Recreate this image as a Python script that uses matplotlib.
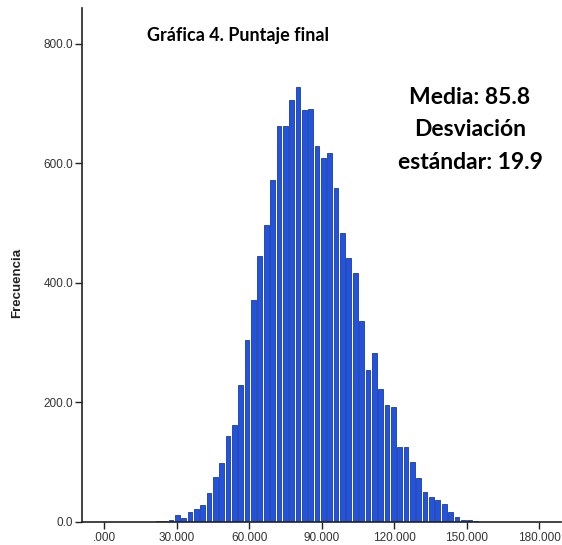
import numpy as np
import matplotlib
matplotlib.use("Agg")
import matplotlib.pyplot as plt

# Histogram data
first_bin_center = 22.31
bin_width = 2.63
frequencies = [1, 1, 4, 12, 7, 16, 22, 29, 49, 76, 98, 144, 163, 230, 304, 371,
               445, 497, 573, 662, 662, 706, 727, 689, 691, 629, 609, 618, 558,
               483, 441, 416, 337, 255, 282, 223, 195, 192, 126, 126, 100, 73,
               50, 41, 36, 30, 17, 8, 4, 3, 1]
x_ticks = [0, 30, 60, 90, 120, 150, 180]
x_tick_labels = [".000", "30.000", "60.000", "90.000", "120.000", "150.000", "180.000"]
y_ticks = [0, 200, 400, 600, 800]
y_tick_labels = ["0.0", "200.0", "400.0", "600.0", "800.0"]
title = "Gráfica 4. Puntaje final"
stats_text = "Media: 85.8\nDesviación\nestándar: 19.9"
y_label = "Frecuencia"

centers = first_bin_center + bin_width * np.arange(len(frequencies))

fig = plt.figure(figsize=(5.62, 5.45), dpi=100)
ax = fig.add_axes([82/562, 23/545, (561-82)/562, (522-8)/545])

ax.bar(centers, frequencies, width=bin_width * 0.74, color="#2152e0",
       edgecolor="#1b3c9e", linewidth=0.6, align="center", zorder=2)

ax.set_xlim(-9.2, 189)
ax.set_ylim(0, 860)
ax.set_xticks(x_ticks)
ax.set_xticklabels(x_tick_labels, fontsize=8.5, color="#333333", family="Liberation Sans")
ax.set_yticks(y_ticks)
ax.set_yticklabels(y_tick_labels, fontsize=8.5, color="#333333", family="Liberation Sans")
ax.tick_params(axis="both", direction="out", length=5, width=1, color="#222222")
ax.tick_params(axis="x", pad=2)
ax.tick_params(axis="y", pad=1.5)

for s in ["top", "right"]:
    ax.spines[s].set_visible(False)
for s in ["left", "bottom"]:
    ax.spines[s].set_color("#222222")
    ax.spines[s].set_linewidth(1.2)

fig.text(17/562, 1 - 283/545, y_label, rotation=90, ha="center", va="center",
         fontsize=9.5, fontweight="bold", family="Liberation Sans", color="#222222")

fig.text(238/562, 1 - 35/545, title, ha="center", va="center",
         fontsize=13, fontweight="bold", family="Lato", color="black")

fig.text(470/562, 1 - 130/545, stats_text, ha="center", va="center",
         fontsize=16.5, fontweight="bold", family="Lato", color="black",
         linespacing=1.65)

fig.savefig("out.png", dpi=100, facecolor="white")
